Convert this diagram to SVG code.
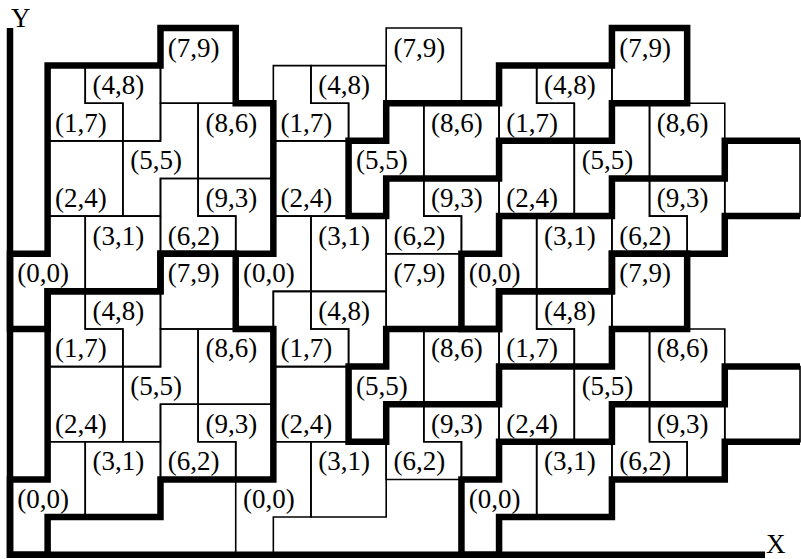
<svg xmlns="http://www.w3.org/2000/svg" xmlns:xlink="http://www.w3.org/1999/xlink" width="801" height="559" viewBox="0 0 801 559">
<style>
.thin{fill:none;stroke:#000;stroke-width:1.6}
.thick{fill:none;stroke:#000;stroke-width:6.5;stroke-linejoin:miter;stroke-miterlimit:10}
.lbl{font-family:"Liberation Serif","Times New Roman",serif;font-size:27px;fill:#000}
</style>
<defs>
<path id="rA" class="thin" d="M160.48 28H235.72V103.24H160.48Z"/>
<path id="rB" class="thin" d="M85.24 65.62H160.48V140.86H122.86V103.24H85.24Z"/>
<path id="rC" class="thin" d="M47.62 65.62H85.24V103.24H122.86V140.86H47.62Z"/>
<path id="rD" class="thin" d="M198.1 103.24H273.34V178.48H198.1Z"/>
<path id="rE" class="thin" d="M160.48 103.24H198.1V178.48H160.48V216.1H122.86V140.86H160.48Z"/>
<path id="rF" class="thin" d="M47.62 140.86H122.86V216.1H47.62Z"/>
<path id="rG" class="thin" d="M198.1 178.48H273.34V253.72H235.72V216.1H198.1Z"/>
<path id="rH" class="thin" d="M160.48 178.48H198.1V216.1H235.72V253.72H160.48Z"/>
<path id="rI" class="thin" d="M85.24 216.1H160.48V291.34H85.24Z"/>
<path id="rJ" class="thin" d="M47.62 216.1H85.24V291.34H47.62V328.96H10V253.72H47.62Z"/>
<g id="block">
<use xlink:href="#rA"/><use xlink:href="#rB"/><use xlink:href="#rC"/><use xlink:href="#rD"/><use xlink:href="#rE"/>
<use xlink:href="#rF"/><use xlink:href="#rG"/><use xlink:href="#rH"/><use xlink:href="#rI"/><use xlink:href="#rJ"/>
<text class="lbl" x="167.8" y="56.5">(7,9)</text>
<text class="lbl" x="92.5" y="94.1">(4,8)</text>
<text class="lbl" x="54.9" y="131.7">(1,7)</text>
<text class="lbl" x="205.4" y="131.7">(8,6)</text>
<text class="lbl" x="130.2" y="169.4">(5,5)</text>
<text class="lbl" x="54.9" y="207">(2,4)</text>
<text class="lbl" x="205.4" y="207">(9,3)</text>
<text class="lbl" x="92.5" y="244.6">(3,1)</text>
<text class="lbl" x="167.8" y="244.6">(6,2)</text>
<text class="lbl" x="17.3" y="282.2">(0,0)</text>
</g>
<path id="xup" class="thick" d="M499.06 65.62H611.92V28H687.16V103.24H611.92V140.86H499.06V178.48H386.2V216.1H348.58V140.86H386.2V103.24H499.06Z"/>
<path id="ylow" class="thick" d="M800.02 140.86H724.78V178.48H611.92V216.1H499.06V253.72H461.44V328.96H499.06V291.34H611.92V253.72H724.78V216.1H800.02"/>
</defs>
<g id="tiles">
<use id="tile-0-0" xlink:href="#block"/>
<use id="tile-1-0" xlink:href="#block" transform="translate(225.72,0)"/>
<use id="tile-2-0" xlink:href="#block" transform="translate(451.44,0)"/>
<use id="tile-0-1" xlink:href="#block" transform="translate(0,225.72)"/>
<use id="tile-1-1" xlink:href="#block" transform="translate(225.72,225.72)"/>
<use id="tile-2-1" xlink:href="#block" transform="translate(451.44,225.72)"/>
<use id="extra-0" xlink:href="#rF" transform="translate(677.16,0)"/>
<use id="extra-1" xlink:href="#rF" transform="translate(677.16,225.72)"/>
</g>
<g id="outlines">
<path class="thick" d="M10 253.72H47.62V65.62H160.48V28H235.72V103.24H273.34V253.72H160.48V291.34H47.62V328.96H10Z"/>
<path class="thick" d="M10 479.44H47.62V291.34H160.48V253.72H235.72V328.96H273.34V479.44H160.48V517.06H47.62V554.68H10Z"/>
<use xlink:href="#xup"/>
<use xlink:href="#xup" transform="translate(0,225.72)"/>
<use xlink:href="#ylow"/>
<use xlink:href="#ylow" transform="translate(0,225.72)"/>
</g>
<g id="axes">
<path class="thick" d="M10 28V554.68H765"/>
<text class="lbl" x="11" y="27">Y</text>
<text class="lbl" x="766" y="553">X</text>
</g>
</svg>
